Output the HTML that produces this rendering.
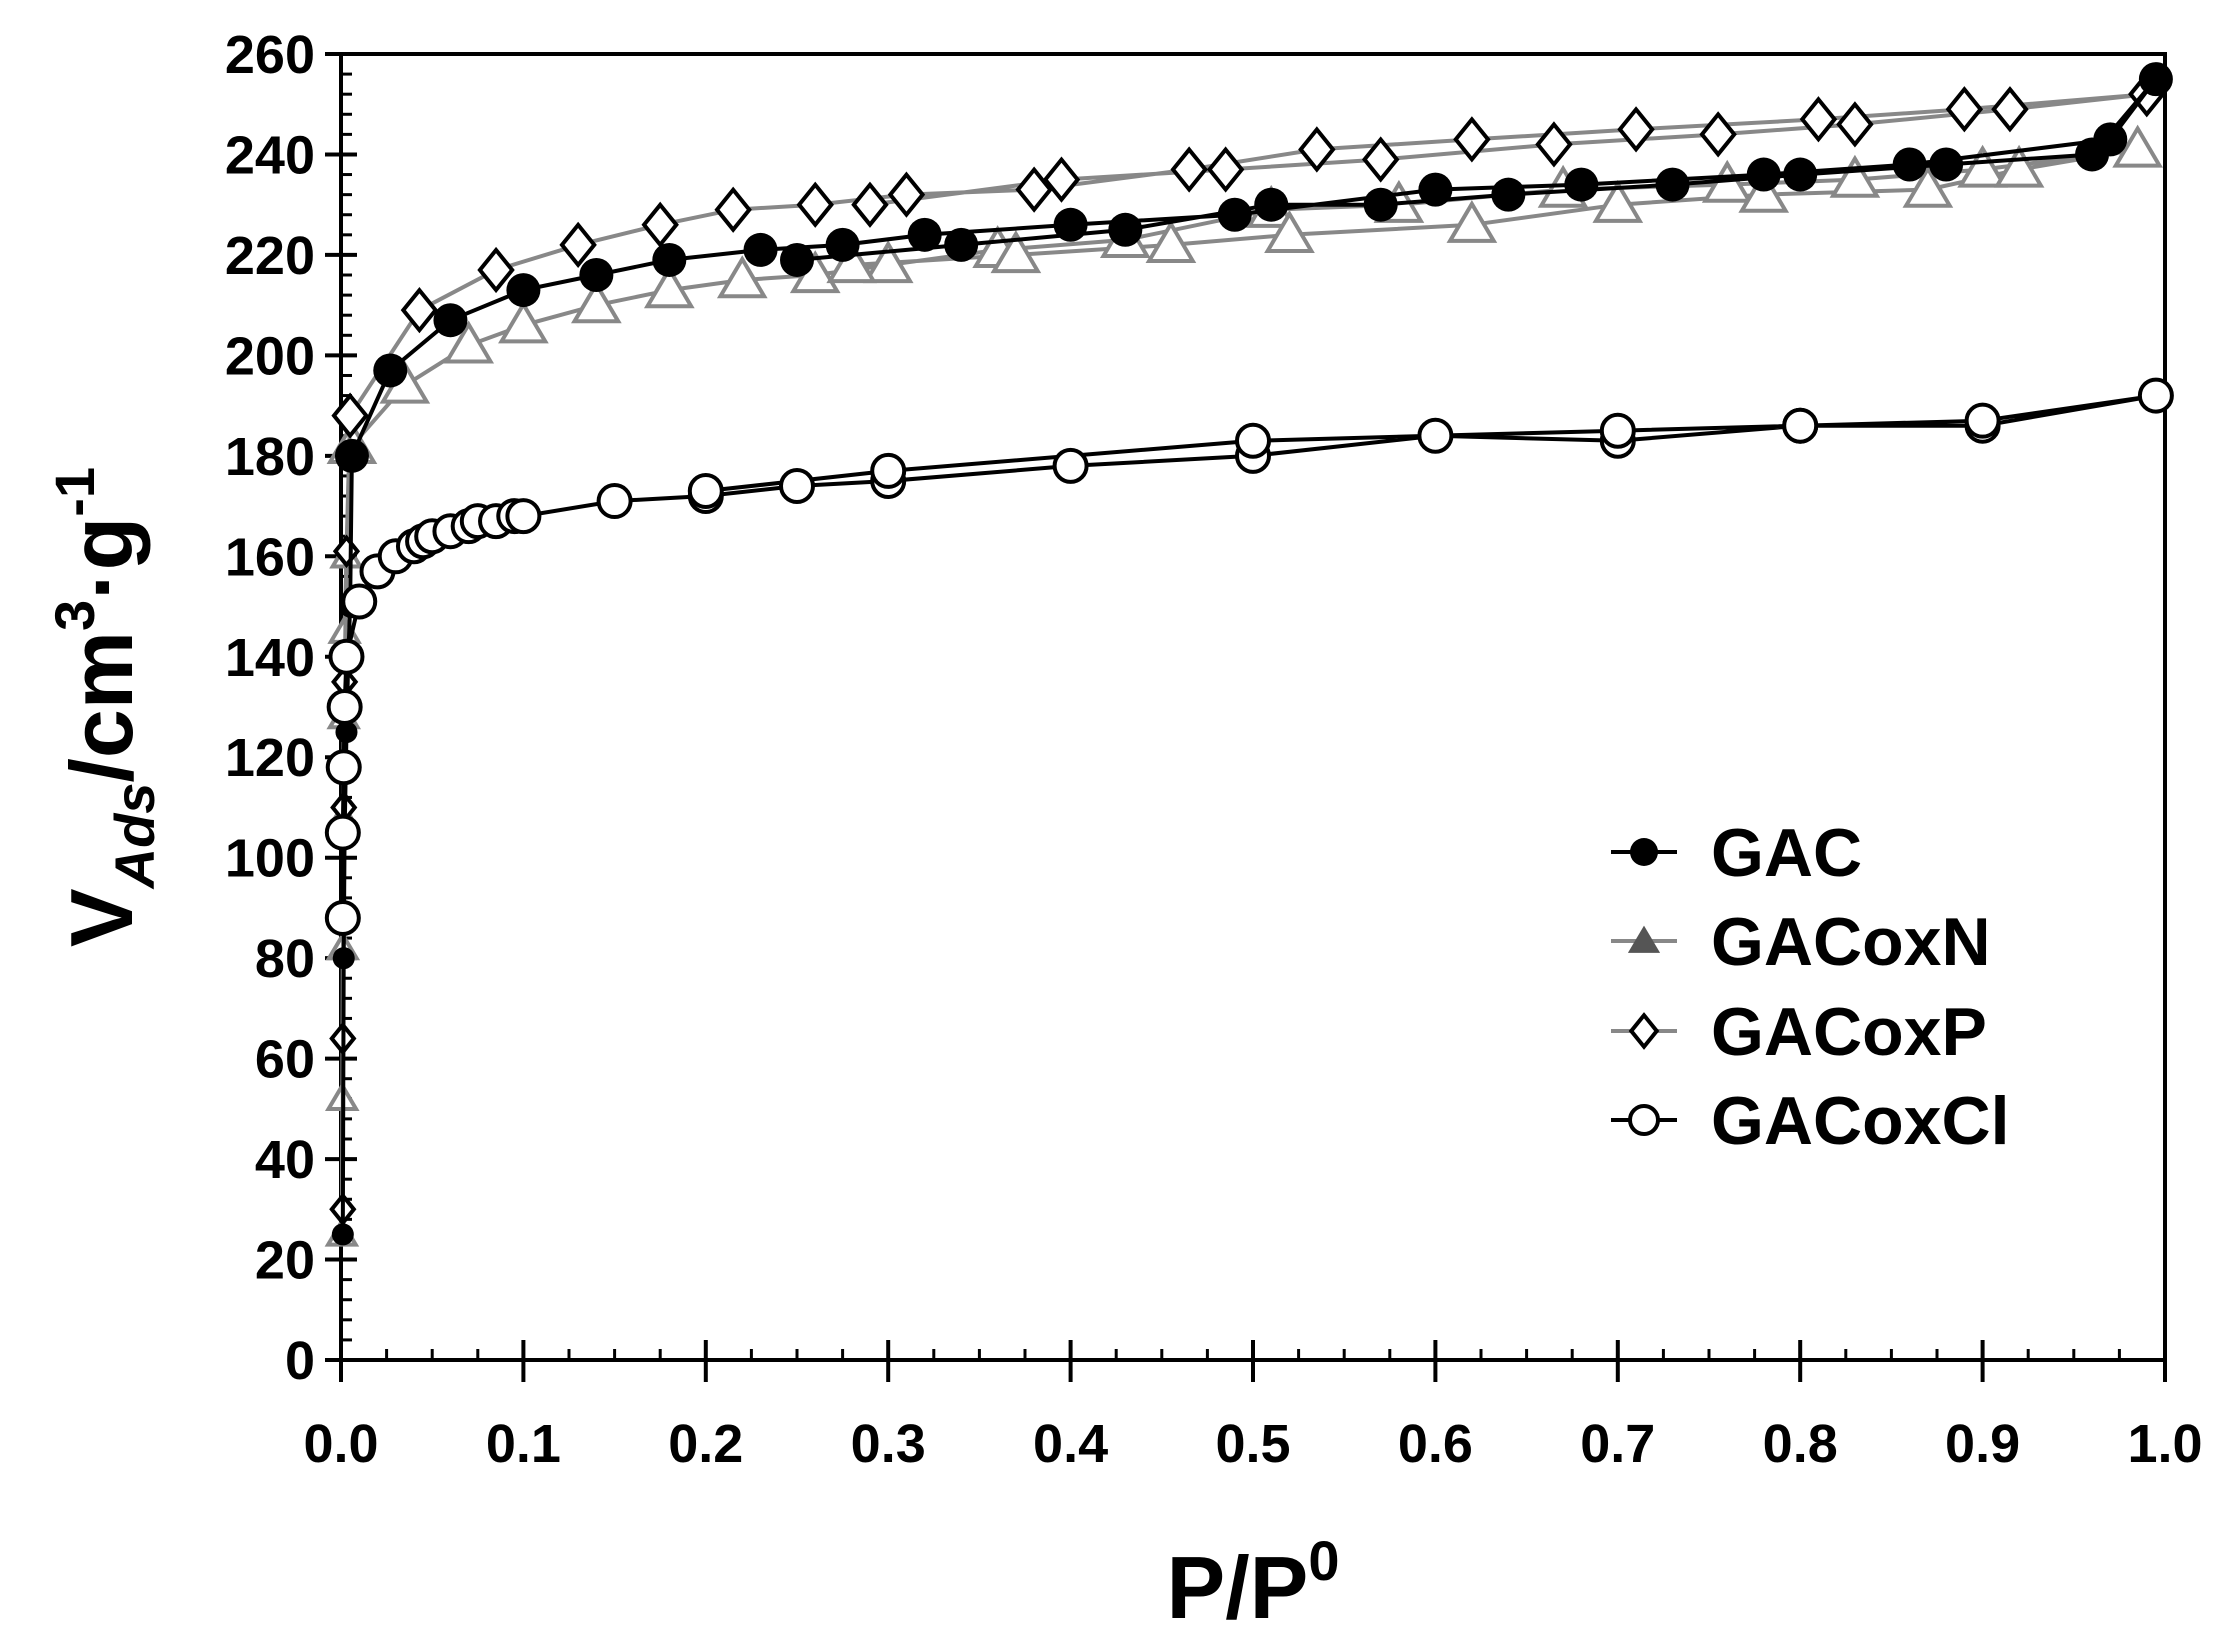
<!DOCTYPE html>
<html><head><meta charset="utf-8"><style>
html,body{margin:0;padding:0;background:#fff;}
svg{display:block;font-family:"Liberation Sans",sans-serif;font-weight:bold;}
</style></head><body>
<svg id="s" width="2226" height="1644" viewBox="0 0 2226 1644" xmlns="http://www.w3.org/2000/svg"></svg>
<script>
const s=document.getElementById('s');
const L=341,R=2165,T=54,B=1360;
const X=p=>L+(R-L)*p, Y=v=>B-(B-T)*v/260;
let h='';
h+=`<rect x="${L}" y="${T}" width="${R-L}" height="${B-T}" fill="none" stroke="#000" stroke-width="4"/>`;
for(let v=0;v<=260;v+=4){const y=Y(v);
 if(v%20==0){h+=`<line x1="${L-16}" x2="${L+16}" y1="${y}" y2="${y}" stroke="#000" stroke-width="4"/>`;
 h+=`<text x="${L-26}" y="${y+19}" font-size="54" text-anchor="end">${v}</text>`;}
 else h+=`<line x1="${L}" x2="${L+11}" y1="${y}" y2="${y}" stroke="#000" stroke-width="3"/>`;}
for(let i=0;i<=40;i++){const x=X(i/40);
 if(i%4==0){h+=`<line x1="${x}" x2="${x}" y1="${B-20}" y2="${B+22}" stroke="#000" stroke-width="4"/>`;
 h+=`<text x="${x}" y="${B+102}" font-size="54" text-anchor="middle">${(i/40).toFixed(1)}</text>`;}
 else h+=`<line x1="${x}" x2="${x}" y1="${B-11}" y2="${B}" stroke="#000" stroke-width="3"/>`;}
h+=`<text x="1253" y="1618" font-size="88" text-anchor="middle">P/P<tspan font-size="56" dy="-38">0</tspan></text>`;
h+=`<text transform="translate(132,707) rotate(-90)" font-size="88" text-anchor="middle">V<tspan font-size="56" font-style="italic" dy="22">Ads</tspan><tspan dy="-22">/cm</tspan><tspan font-size="56" dy="-38">3</tspan><tspan dy="38">·g</tspan><tspan font-size="56" dy="-38">-1</tspan></text>`;
function mk(t,x,y,r){
 if(t=='fc')return `<circle cx="${x}" cy="${y}" r="${r}" fill="#000"/>`;
 if(t=='oc')return `<circle cx="${x}" cy="${y}" r="${r}" fill="#fff" stroke="#000" stroke-width="4"/>`;
 if(t=='tr')return `<polygon points="${x},${y-r*1.1} ${x-r*1.15},${y+r*0.85} ${x+r*1.15},${y+r*0.85}" fill="#fff" stroke="#888" stroke-width="4"/>`;
 if(t=='di')return `<polygon points="${x},${y-r*1.05} ${x+r*0.85},${y} ${x},${y+r*1.05} ${x-r*0.85},${y}" fill="#fff" stroke="#000" stroke-width="4"/>`;
 if(t=='ft')return `<polygon points="${x},${y-r*1.1} ${x-r*1.15},${y+r*0.85} ${x+r*1.15},${y+r*0.85}" fill="#555"/>`;
}
function series(pts,col,t,r,rl){
 let d=pts.map((p,i)=>(i?'L':'M')+X(p[0]).toFixed(1)+','+Y(p[1]).toFixed(1)).join('');
 h+=`<path d="${d}" fill="none" stroke="${col}" stroke-width="4"/>`;
 pts.forEach(p=>h+=mk(t,X(p[0]),Y(p[1]),p[1]<170&&rl?rl:r));
}
const GAC=[[0.001,25],[0.0015,80],[0.002,105],[0.003,125],[0.004,140],[0.005,150],[0.006,180],[0.027,197],[0.06,207],[0.1,213],[0.14,216],[0.18,219],[0.23,221],[0.275,222],[0.32,224],[0.40,226],[0.49,228],[0.6,233],[0.68,234],[0.78,236],[0.86,238],[0.97,243],[0.995,255],[0.96,240],[0.88,238],[0.8,236],[0.73,234],[0.64,232],[0.57,230],[0.51,230],[0.43,225],[0.34,222],[0.25,219]];
const N=[[0.0005,25],[0.0007,52],[0.001,82],[0.0012,108],[0.0015,128],[0.002,145],[0.003,160],[0.006,182],[0.035,194],[0.07,202],[0.1,206],[0.14,210],[0.18,213],[0.22,215],[0.26,216],[0.3,218],[0.36,221],[0.43,223],[0.51,229],[0.58,230],[0.67,233],[0.76,234],[0.83,235],[0.9,237],[0.985,241],[0.92,237],[0.87,233],[0.78,232],[0.7,230],[0.62,226],[0.52,224],[0.455,222],[0.37,220],[0.28,218]];
const P=[[0.001,30],[0.001,64],[0.0015,110],[0.002,135],[0.003,161],[0.005,188],[0.043,209],[0.085,217],[0.13,222],[0.175,226],[0.215,229],[0.26,230],[0.31,232],[0.38,233],[0.465,237],[0.535,241],[0.62,243],[0.71,245],[0.81,247],[0.89,249],[0.99,252],[0.915,249],[0.83,246],[0.755,244],[0.665,242],[0.57,239],[0.485,237],[0.395,235],[0.29,230]];
const C=[[0.001,88],[0.001,105],[0.0015,118],[0.002,130],[0.003,140],[0.01,151],[0.02,157],[0.03,160],[0.04,162],[0.045,163],[0.05,164],[0.06,165],[0.07,166],[0.075,167],[0.085,167],[0.095,168],[0.1,168],[0.15,171],[0.2,172],[0.25,174],[0.3,175],[0.4,178],[0.5,180],[0.6,184],[0.7,183],[0.8,186],[0.9,186],[0.995,192],[0.9,187],[0.8,186],[0.7,185],[0.5,183],[0.3,177],[0.2,173]];
series(N,'#888','tr',19,12);
series(P,'#888','di',19,13);
series(GAC,'#000','fc',17,11);
series(C,'#000','oc',16);
const lg=[['GAC','#000','fc',852],['GACoxN','#888','ft',941],['GACoxP','#888','di',1031],['GACoxCl','#000','oc',1120]];
lg.forEach(l=>{h+=`<line x1="1611" x2="1677" y1="${l[3]}" y2="${l[3]}" stroke="${l[1]}" stroke-width="4"/>`;
 h+=mk(l[2],1644,l[3],l[2]=='di'?15:14);
 h+=`<text x="1711" y="${l[3]+24}" font-size="68">${l[0]}</text>`;});
s.innerHTML=h;
</script>
</body></html>
